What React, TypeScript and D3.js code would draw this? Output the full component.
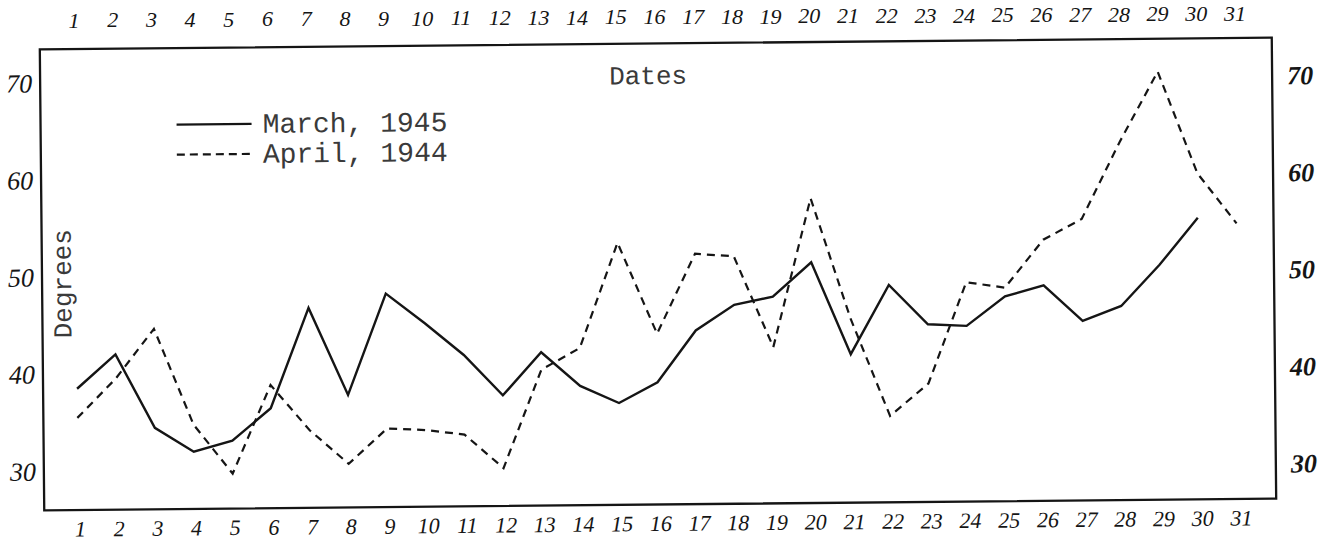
import React from "react";
import * as d3 from "d3";

// Dates (days of month)
const dayLabels: number[] = [
  1, 2, 3, 4, 5, 6, 7, 8, 9, 10, 11, 12, 13, 14, 15, 16, 17, 18, 19, 20,
  21, 22, 23, 24, 25, 26, 27, 28, 29, 30, 31,
];

// Temperatures (degrees)
const march1945: number[] = [
  39.0, 42.5, 34.9, 32.4, 33.5, 36.8, 47.1, 38.1, 48.5, 45.4, 42.1, 37.9,
  42.3, 38.8, 37.0, 39.1, 44.4, 47.0, 47.8, 51.3, 41.8, 48.9, 44.8, 44.6,
  47.6, 48.7, 45.0, 46.5, 50.7, 55.5,
];
const april1944: number[] = [
  36.0, 40.0, 45.1, 35.2, 30.1, 39.2, 34.5, 31.0, 34.6, 34.4, 33.9, 30.4,
  40.5, 42.7, 53.5, 44.1, 52.3, 52.0, 42.6, 57.9, 45.5, 35.4, 38.7, 49.1,
  48.5, 53.4, 55.5, 63.4, 70.6, 60.1, 54.9,
];

const degreeTicks: number[] = [30, 40, 50, 60, 70];

const seriesNames = ["March, 1945", "April, 1944"];

const W = 1332;
const H = 543;
const frame = { x0: 42, x1: 1274, y0: 43.5, y1: 504.5 };
const ink = "#151515";
const typeInk = "#3a3a3a";
const typeFont = "'Liberation Mono', 'DejaVu Sans Mono', monospace";
const handFont = "'Liberation Serif', 'DejaVu Serif', serif";

export default function App() {
  const x = d3.scaleLinear().domain([1, 31]).range([76, 1237]);
  const y = d3.scaleLinear().domain([26.5, 74]).range([frame.y1, frame.y0]);
  // hand-lettered top row drifts upward slightly less than the page tilt
  const topRowY = d3.scaleLinear().domain([76, 1237]).range([27.5, 21]);
  const line = d3
    .line<number>()
    .x((_, i) => x(dayLabels[i]))
    .y((d) => y(d));

  return (
    <svg
      width={W}
      height={H}
      style={{ position: "absolute", left: 0, top: 0, display: "block", background: "#fff" }}
    >
      <rect x={0} y={0} width={W} height={H} fill="#fff" />
      {/* top date labels */}
      {dayLabels.map((d) => (
        <text
          key={"t" + d}
          x={x(d) - 2}
          y={topRowY(x(d))}
          textAnchor="middle"
          fontFamily={handFont}
          fontStyle="italic"
          fontSize={22}
          fill={ink}
        >
          {d}
        </text>
      ))}
      <g transform="rotate(-0.55, 658, 274)">
        {/* frame */}
        <rect
          x={frame.x0}
          y={frame.y0}
          width={frame.x1 - frame.x0}
          height={frame.y1 - frame.y0}
          fill="none"
          stroke={ink}
          strokeWidth={2.3}
        />
        {/* bottom date labels */}
        {dayLabels.map((d) => (
          <text
            key={"b" + d}
            x={x(d) + 2}
            y={531}
            textAnchor="middle"
            fontFamily={handFont}
            fontStyle="italic"
            fontSize={22}
            fill={ink}
          >
            {d}
          </text>
        ))}
        {/* left degree labels */}
        {degreeTicks.map((v) => (
          <text
            key={"l" + v}
            x={21}
            y={y(v) + 4}
            textAnchor="middle"
            fontFamily={handFont}
            fontStyle="italic"
            fontSize={26}
            fill={ink}
          >
            {v}
          </text>
        ))}
        {/* right degree labels */}
        {degreeTicks.map((v) => (
          <text
            key={"r" + v}
            x={1302}
            y={y(v) + 8}
            textAnchor="middle"
            fontFamily={handFont}
            fontStyle="italic"
            fontWeight={700}
            fontSize={26}
            fill={ink}
          >
            {v}
          </text>
        ))}
        {/* titles */}
        <text x={650} y={84} textAnchor="middle" fontFamily={typeFont} fontSize={26} fill={typeInk}>
          Dates
        </text>
        <text
          transform="translate(71, 278) rotate(-90)"
          textAnchor="middle"
          fontFamily={typeFont}
          fontSize={26}
          fill={typeInk}
        >
          Degrees
        </text>
        {/* legend */}
        <line x1={178} x2={253} y1={120} y2={120} stroke={ink} strokeWidth={2.2} />
        <line
          x1={178}
          x2={253}
          y1={150}
          y2={150}
          stroke={ink}
          strokeWidth={2.2}
          strokeDasharray="8 5"
        />
        <text x={264} y={129} fontFamily={typeFont} fontSize={28} fill={typeInk}>
          {seriesNames[0]}
        </text>
        <text x={264} y={159} fontFamily={typeFont} fontSize={28} fill={typeInk}>
          {seriesNames[1]}
        </text>
        {/* data lines */}
        <path
          d={line(march1945) || ""}
          fill="none"
          stroke={ink}
          strokeWidth={2.4}
          strokeLinejoin="miter"
        />
        <path
          d={line(april1944) || ""}
          fill="none"
          stroke={ink}
          strokeWidth={2.2}
          strokeDasharray="8 6"
        />
      </g>
    </svg>
  );
}
